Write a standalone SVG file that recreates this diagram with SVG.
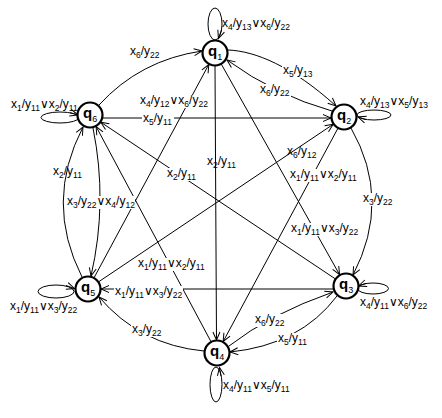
<svg xmlns="http://www.w3.org/2000/svg" width="442" height="418" viewBox="0 0 442 418">
<style>
.e{fill:none;stroke:#000;stroke-width:1;marker-end:url(#a)}
.l{fill:none;stroke:#000;stroke-width:1}
.t{font-family:"Liberation Sans",Arial,"DejaVu Sans",sans-serif;font-size:12px;fill:#000}
.b{fill:#fff}
.s{font-size:8.5px}
.c{fill:#fff;stroke:#000;stroke-width:2.2}
.n{font-family:"Liberation Sans",Arial,sans-serif;font-size:15px;font-weight:bold;fill:#000}
.ns{font-size:9px;font-weight:normal}
</style>
<defs>
<marker id="a" viewBox="-10 -6 12 12" markerWidth="12" markerHeight="12" refX="0" refY="0" orient="auto" markerUnits="userSpaceOnUse">
<path d="M-8,-3.5 L0,0 L-8,3.5" fill="none" stroke="#000" stroke-width="1"/>
</marker>
</defs>
<rect width="442" height="418" fill="#fff"/>
<g id="connectors">
<path class="e" d="M99,105 Q140,60 202,51"/>
<path class="e" d="M228,50 C255,51 292,66 336,106"/>
<path class="e" d="M332,111 Q275,95 227,60"/>
<path class="e" d="M103,118 L331,118"/>
<path class="e" d="M215,66 L216.5,340"/>
<path class="e" d="M351,128 Q392,200 353,275"/>
<path class="e" d="M98.8,281.7 L333.2,124.3"/>
<path class="e" d="M335.2,278.8 L100.8,122.2"/>
<path class="e" d="M221.4,64.3 L339.6,274.7"/>
<path class="e" d="M337.8,128.5 L223.2,341.5"/>
<path class="e" d="M94.2,277.5 L208.8,64.5"/>
<path class="e" d="M210.9,341.5 L96.1,126.5"/>
<path class="e" d="M333,289 L101,289"/>
<path class="e" d="M229,346 Q270,314 333,292"/>
<path class="e" d="M337,296 Q300,345 230,352"/>
<path class="e" d="M204,351 Q140,345 99,297"/>
<path class="e" d="M93,128 Q108,202 91,276"/>
<path class="e" d="M82,277 Q44,202 83,127"/>
<ellipse class="l" cx="215" cy="24" rx="7" ry="16"/>
<path class="e" d="M221.5,30 L218.4,38.5"/>
<ellipse class="l" cx="60" cy="117.5" rx="19" ry="5.5"/>
<path class="e" d="M70,112.6 L78,115"/>
<ellipse class="l" cx="374" cy="115" rx="17" ry="5"/>
<path class="e" d="M366,119.7 L358,117"/>
<ellipse class="l" cx="373" cy="288.5" rx="15.5" ry="5.5"/>
<path class="e" d="M366,283.3 L358.5,286"/>
<ellipse class="l" cx="216" cy="384.5" rx="6" ry="17.5"/>
<path class="e" d="M221,376 L219.5,367.5"/>
<ellipse class="l" cx="56" cy="291.5" rx="18" ry="6.5"/>
<path class="e" d="M66,285.5 L74.5,288.5"/>
</g>
<g id="labels">
<rect class="b" x="282" y="65" width="32" height="13"/>
<rect class="b" x="259" y="84" width="32" height="13"/>
<rect class="b" x="142" y="113" width="32" height="13"/>
<rect class="b" x="166" y="168" width="32" height="13"/>
<rect class="b" x="289" y="169" width="69" height="13"/>
<rect class="b" x="290" y="223" width="69" height="13"/>
<rect class="b" x="362" y="193" width="32" height="13"/>
<rect class="b" x="66" y="196" width="69" height="13"/>
<rect class="b" x="139" y="95" width="69" height="13"/>
<rect class="b" x="137" y="258" width="69" height="13"/>
<rect class="b" x="114" y="286" width="69" height="13"/>
<rect class="b" x="254" y="314" width="32" height="13"/>
<rect class="b" x="277" y="333" width="32" height="13"/>
<rect class="b" x="131" y="324" width="32" height="13"/>
<text class="t" x="222" y="27">x<tspan class="s" dy="3">4</tspan><tspan dy="-3">/y</tspan><tspan class="s" dy="3">13</tspan><tspan dy="-3">∨x</tspan><tspan class="s" dy="3">6</tspan><tspan dy="-3">/y</tspan><tspan class="s" dy="3">22</tspan></text>
<text class="t" x="11" y="108">x<tspan class="s" dy="3">1</tspan><tspan dy="-3">/y</tspan><tspan class="s" dy="3">11</tspan><tspan dy="-3">∨x</tspan><tspan class="s" dy="3">2</tspan><tspan dy="-3">/y</tspan><tspan class="s" dy="3">11</tspan></text>
<text class="t" x="360" y="105">x<tspan class="s" dy="3">4</tspan><tspan dy="-3">/y</tspan><tspan class="s" dy="3">13</tspan><tspan dy="-3">∨x</tspan><tspan class="s" dy="3">5</tspan><tspan dy="-3">/y</tspan><tspan class="s" dy="3">13</tspan></text>
<text class="t" x="360" y="306">x<tspan class="s" dy="3">4</tspan><tspan dy="-3">/y</tspan><tspan class="s" dy="3">11</tspan><tspan dy="-3">∨x</tspan><tspan class="s" dy="3">6</tspan><tspan dy="-3">/y</tspan><tspan class="s" dy="3">22</tspan></text>
<text class="t" x="223" y="389">x<tspan class="s" dy="3">4</tspan><tspan dy="-3">/y</tspan><tspan class="s" dy="3">11</tspan><tspan dy="-3">∨x</tspan><tspan class="s" dy="3">5</tspan><tspan dy="-3">/y</tspan><tspan class="s" dy="3">11</tspan></text>
<text class="t" x="10" y="310">x<tspan class="s" dy="3">1</tspan><tspan dy="-3">/y</tspan><tspan class="s" dy="3">11</tspan><tspan dy="-3">∨x</tspan><tspan class="s" dy="3">3</tspan><tspan dy="-3">/y</tspan><tspan class="s" dy="3">22</tspan></text>
<text class="t" x="130" y="55">x<tspan class="s" dy="3">6</tspan><tspan dy="-3">/y</tspan><tspan class="s" dy="3">22</tspan></text>
<text class="t" x="283" y="74">x<tspan class="s" dy="3">5</tspan><tspan dy="-3">/y</tspan><tspan class="s" dy="3">13</tspan></text>
<text class="t" x="260" y="93">x<tspan class="s" dy="3">6</tspan><tspan dy="-3">/y</tspan><tspan class="s" dy="3">22</tspan></text>
<text class="t" x="143" y="122">x<tspan class="s" dy="3">5</tspan><tspan dy="-3">/y</tspan><tspan class="s" dy="3">11</tspan></text>
<text class="t" x="207" y="165">x<tspan class="s" dy="3">2</tspan><tspan dy="-3">/y</tspan><tspan class="s" dy="3">11</tspan></text>
<text class="t" x="167" y="177">x<tspan class="s" dy="3">2</tspan><tspan dy="-3">/y</tspan><tspan class="s" dy="3">11</tspan></text>
<text class="t" x="287" y="155">x<tspan class="s" dy="3">6</tspan><tspan dy="-3">/y</tspan><tspan class="s" dy="3">12</tspan></text>
<text class="t" x="290" y="178">x<tspan class="s" dy="3">1</tspan><tspan dy="-3">/y</tspan><tspan class="s" dy="3">11</tspan><tspan dy="-3">∨x</tspan><tspan class="s" dy="3">2</tspan><tspan dy="-3">/y</tspan><tspan class="s" dy="3">11</tspan></text>
<text class="t" x="291" y="232">x<tspan class="s" dy="3">1</tspan><tspan dy="-3">/y</tspan><tspan class="s" dy="3">11</tspan><tspan dy="-3">∨x</tspan><tspan class="s" dy="3">3</tspan><tspan dy="-3">/y</tspan><tspan class="s" dy="3">22</tspan></text>
<text class="t" x="363" y="202">x<tspan class="s" dy="3">3</tspan><tspan dy="-3">/y</tspan><tspan class="s" dy="3">22</tspan></text>
<text class="t" x="53" y="175">x<tspan class="s" dy="3">2</tspan><tspan dy="-3">/y</tspan><tspan class="s" dy="3">11</tspan></text>
<text class="t" x="67" y="205">x<tspan class="s" dy="3">3</tspan><tspan dy="-3">/y</tspan><tspan class="s" dy="3">22</tspan><tspan dy="-3">∨x</tspan><tspan class="s" dy="3">4</tspan><tspan dy="-3">/y</tspan><tspan class="s" dy="3">12</tspan></text>
<text class="t" x="140" y="104">x<tspan class="s" dy="3">4</tspan><tspan dy="-3">/y</tspan><tspan class="s" dy="3">12</tspan><tspan dy="-3">∨x</tspan><tspan class="s" dy="3">6</tspan><tspan dy="-3">/y</tspan><tspan class="s" dy="3">22</tspan></text>
<text class="t" x="138" y="267">x<tspan class="s" dy="3">1</tspan><tspan dy="-3">/y</tspan><tspan class="s" dy="3">11</tspan><tspan dy="-3">∨x</tspan><tspan class="s" dy="3">2</tspan><tspan dy="-3">/y</tspan><tspan class="s" dy="3">11</tspan></text>
<text class="t" x="115" y="295">x<tspan class="s" dy="3">1</tspan><tspan dy="-3">/y</tspan><tspan class="s" dy="3">11</tspan><tspan dy="-3">∨x</tspan><tspan class="s" dy="3">3</tspan><tspan dy="-3">/y</tspan><tspan class="s" dy="3">22</tspan></text>
<text class="t" x="255" y="323">x<tspan class="s" dy="3">6</tspan><tspan dy="-3">/y</tspan><tspan class="s" dy="3">22</tspan></text>
<text class="t" x="278" y="342">x<tspan class="s" dy="3">5</tspan><tspan dy="-3">/y</tspan><tspan class="s" dy="3">11</tspan></text>
<text class="t" x="132" y="333">x<tspan class="s" dy="3">3</tspan><tspan dy="-3">/y</tspan><tspan class="s" dy="3">22</tspan></text>
</g>
<g id="q1"><circle class="c" cx="215" cy="53" r="12.5"/><text class="n" x="208" y="56">q<tspan class="ns" dy="4">1</tspan></text></g>
<g id="q2"><circle class="c" cx="344" cy="117" r="12.5"/><text class="n" x="337" y="120">q<tspan class="ns" dy="4">2</tspan></text></g>
<g id="q3"><circle class="c" cx="346" cy="286" r="12.5"/><text class="n" x="339" y="289">q<tspan class="ns" dy="4">3</tspan></text></g>
<g id="q4"><circle class="c" cx="217" cy="353" r="12.5"/><text class="n" x="210" y="356">q<tspan class="ns" dy="4">4</tspan></text></g>
<g id="q5"><circle class="c" cx="88" cy="289" r="12.5"/><text class="n" x="81" y="292">q<tspan class="ns" dy="4">5</tspan></text></g>
<g id="q6"><circle class="c" cx="90" cy="115" r="12.5"/><text class="n" x="83" y="118">q<tspan class="ns" dy="4">6</tspan></text></g>
</svg>
